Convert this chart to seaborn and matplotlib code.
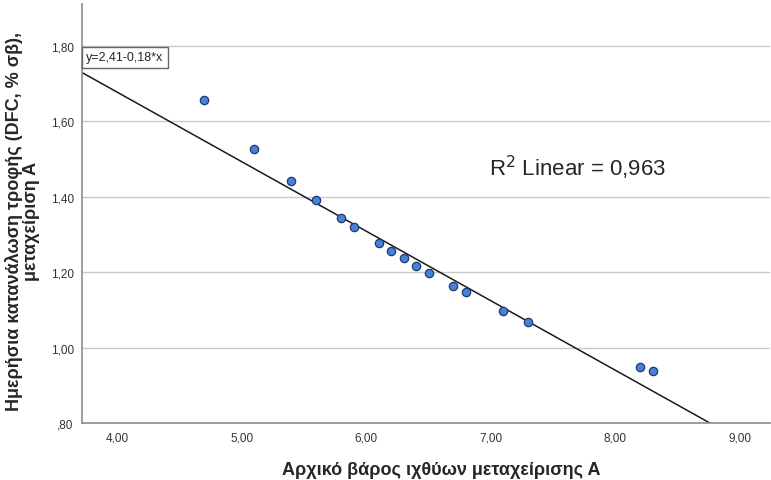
import pandas as pd
import matplotlib
matplotlib.use("Agg")
import matplotlib.pyplot as plt
import seaborn as sns
from matplotlib.ticker import FuncFormatter, MultipleLocator

# initial weight (x) and daily feed consumption (y), treatment A
initial_weight = [4.70, 5.10, 5.40, 5.60, 5.80, 5.90, 6.10, 6.20, 6.30, 6.40,
                  6.50, 6.70, 6.80, 7.10, 7.30, 8.20, 8.30]
dfc = [1.657, 1.526, 1.442, 1.390, 1.342, 1.319, 1.277, 1.255, 1.236, 1.217,
       1.198, 1.162, 1.146, 1.096, 1.067, 0.949, 0.938]

# fit line as shown on the chart (SPSS output)
fit_intercept = 2.414
fit_slope = -0.1843
r_squared = 0.963

x_label = "Αρχικό βάρος ιχθύων μεταχείρισης Α"
y_label = "Ημερήσια κατανάλωση τροφής (DFC, % σβ),\nμεταχείριση Α"


def spss_fmt(v, pos):
    s = f"{v:.2f}".replace(".", ",")
    if s.startswith("0,"):
        s = s[1:]
    return s


df = pd.DataFrame({"x": initial_weight, "y": dfc})

sns.set_style("white")
plt.rcParams["font.family"] = ["Arial", "Liberation Sans", "DejaVu Sans"]

fig = plt.figure(figsize=(7.71, 4.81), dpi=100)
ax = fig.add_axes([0.1064, 0.1185, 0.8923, 0.8711])

ax.axline((0, fit_intercept), slope=fit_slope, color="#1a1a1a",
          linewidth=1.1, zorder=2)
sns.scatterplot(data=df, x="x", y="y", ax=ax, s=36, color="#4a80d6",
                edgecolor="#1c3a70", linewidth=0.9, zorder=3)

ax.set_xlim(3.72, 9.24)
ax.set_ylim(0.80, 1.91)
ax.yaxis.set_major_locator(MultipleLocator(0.2))
ax.xaxis.set_major_locator(MultipleLocator(1.0))
ax.xaxis.set_major_formatter(FuncFormatter(spss_fmt))
ax.yaxis.set_major_formatter(FuncFormatter(spss_fmt))
ax.grid(axis="y", color="#c8c8c8", linewidth=1.0)
ax.grid(axis="x", visible=False)
ax.set_axisbelow(True)
for side in ["top", "right"]:
    ax.spines[side].set_visible(False)
for side in ["left", "bottom"]:
    ax.spines[side].set_color("#8c8c8c")
    ax.spines[side].set_linewidth(1.2)
ax.tick_params(axis="both", length=0, labelsize=8.5, colors="#333333", pad=6)

ax.set_xlabel(x_label, fontsize=13, fontweight="bold")
ax.xaxis.set_label_coords(0.522, -0.091)
ax.set_ylabel(y_label, fontsize=13, fontweight="bold", linespacing=1.0)
ax.yaxis.set_label_coords(-0.061, 0.484)

ax.text(0.72, 0.611, f"R$^2$ Linear = {r_squared:.3f}".replace(".", ","),
        transform=ax.transAxes, fontsize=16, ha="center", va="center")
eq = f"y={fit_intercept:.2f}-{abs(fit_slope):.2f}*x".replace(".", ",")
ax.text(0.006, 0.873, eq, transform=ax.transAxes, fontsize=9,
        ha="left", va="center",
        bbox=dict(boxstyle="square,pad=0.35", facecolor="white",
                  edgecolor="#666666", linewidth=1.0), zorder=5)

fig.savefig("out.png", dpi=100)
